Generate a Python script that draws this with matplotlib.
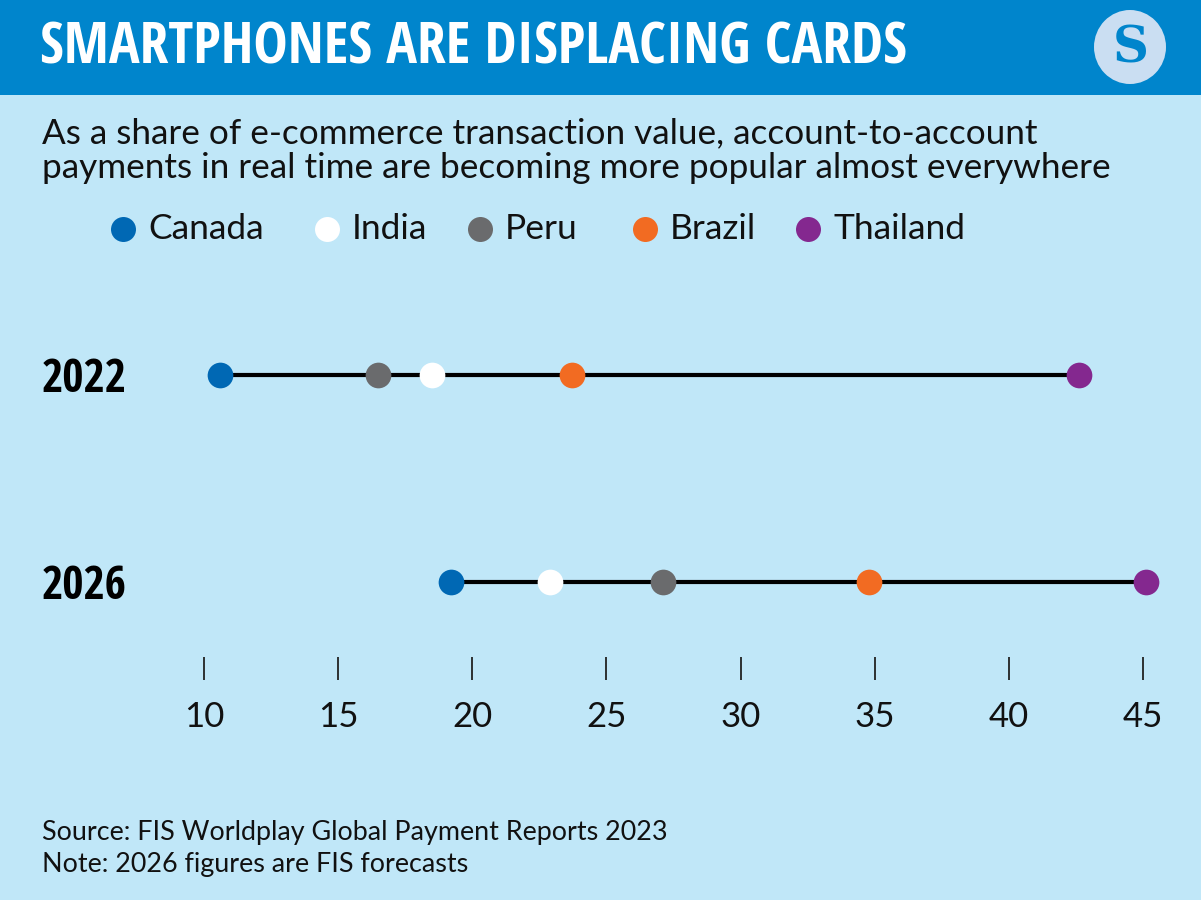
import matplotlib.pyplot as plt
from matplotlib.patches import Rectangle, Ellipse
from matplotlib.transforms import blended_transform_factory

countries = ['Canada', 'India', 'Peru', 'Brazil', 'Thailand']
colors = ['#0068B4', '#FFFFFF', '#6A6B6D', '#F26B22', '#84288F']
years = ['2022', '2026']
share_2022 = [10.6, 18.5, 16.5, 23.7, 42.6]
share_2026 = [19.2, 22.9, 27.1, 34.8, 45.1]
xticks = [10, 15, 20, 25, 30, 35, 40, 45]

bg = '#C0E7F8'
header = '#0085CC'
W, H = 1201, 900
cond = ['Open Sans Condensed', 'Roboto Condensed', 'Liberation Sans Narrow', 'Roboto', 'DejaVu Sans']
body = ['Lato', 'DejaVu Sans']

fig = plt.figure(figsize=(W / 100, H / 100), dpi=100)
fig.patch.set_facecolor(bg)
renderer = fig.canvas.get_renderer()


def fit_width(t, target_px):
    # shrink/grow a text so it spans target_px
    w = t.get_window_extent(renderer).width
    t.set_fontsize(t.get_fontsize() * target_px / w)


# header band
fig.patches.append(Rectangle((0, 1 - 95 / H), 1, 95 / H, transform=fig.transFigure,
                             facecolor=header, edgecolor='none', zorder=0))
title = fig.text(40 / W, 1 - 48 / H, 'SMARTPHONES ARE DISPLACING CARDS', color='white',
                 family=cond, weight='bold', fontstretch='condensed', fontsize=36,
                 va='center', ha='left')
fit_width(title, 867)
# logo
fig.patches.append(Ellipse((1130 / W, 1 - 47 / H), 72 / W, 74 / H, transform=fig.transFigure,
                           facecolor='#CADEF2', edgecolor='none', zorder=1))
fig.text(1131 / W, 1 - 49 / H, 'S', color=header, family='DejaVu Serif', weight='bold',
         fontsize=36, ha='center', va='center', zorder=2)

fig.text(42 / W, 1 - 143 / H, 'As a share of e-commerce transaction value, account-to-account',
         family=body, fontsize=25.3, va='baseline', color='#111111')
fig.text(42 / W, 1 - 178 / H, 'payments in real time are becoming more popular almost everywhere',
         family=body, fontsize=25.3, va='baseline', color='#111111')

# legend
dot_x = [123, 327, 480, 645, 808]
for name, c, dx in zip(countries, colors, dot_x):
    fig.lines.append(plt.Line2D([dx / W], [1 - 229 / H], marker='o', markersize=18,
                                color=c, markeredgewidth=0, transform=fig.transFigure))
    fig.text((dx + 25) / W, 1 - 229 / H, name, family=body, fontsize=25.5,
             va='center', ha='left', color='#111111')

# chart axes: 10 -> px 204, 45 -> px 1143, spine at px 657
ax = fig.add_axes([204 / W, 1 - 657 / H, (1143 - 204) / W, (657 - 300) / H])
ax.set_facecolor('none')
row_px = [375, 582]
pxu = row_px[1] - row_px[0]
ax.set_ylim((657 - row_px[0]) / pxu, (300 - row_px[0]) / pxu)
ax.set_xlim(10, 45)
ytrans = blended_transform_factory(fig.transFigure, ax.transData)

for i, vals in enumerate([share_2022, share_2026]):
    ax.plot([min(vals), max(vals)], [i, i], color='black', lw=3, zorder=2,
            solid_capstyle='butt', clip_on=False)
    for v, c in zip(vals, colors):
        ax.plot(v, i, 'o', color=c, markersize=18.5, markeredgewidth=0, zorder=3,
                clip_on=False)
    yl = ax.text(42 / W, i + 0.02, years[i], transform=ytrans, family=cond, weight='bold',
                 fontstretch='condensed', fontsize=34, va='center', ha='left', color='black')
    fit_width(yl, 86)

for s in ['top', 'left', 'right', 'bottom']:
    ax.spines[s].set_visible(False)
ax.set_yticks([])
ax.set_xticks(xticks)
ax.set_xticklabels([str(t) for t in xticks], family=body, fontsize=25)
ax.tick_params(axis='x', direction='out', length=16.5, width=1.3, color='#222222',
               pad=15, labelcolor='#111111')

fig.text(42 / W, 1 - 840 / H, 'Source: FIS Worldplay Global Payment Reports 2023',
         family=body, fontsize=19.4, va='baseline', color='#111111')
fig.text(42 / W, 1 - 872 / H, 'Note: 2026 figures are FIS forecasts',
         family=body, fontsize=19.4, va='baseline', color='#111111')

fig.savefig('out.png', dpi=100, facecolor=bg)
